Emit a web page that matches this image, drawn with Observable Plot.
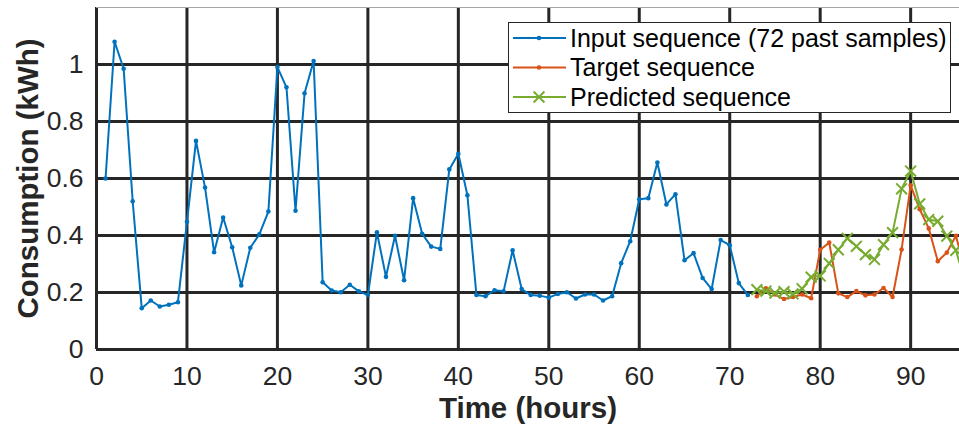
<!DOCTYPE html>
<html><head><meta charset="utf-8">
<script src="https://cdn.jsdelivr.net/npm/d3@7"></script>
<script src="https://cdn.jsdelivr.net/npm/@observablehq/plot@0.6"></script>
<style>
body{margin:0;background:#fff;}
#wrap{position:relative;width:959px;height:428px;overflow:hidden;font-family:"Liberation Sans",Arial,sans-serif;}
#legend{position:absolute;left:508px;top:22px;}
</style></head><body><div id="wrap"></div>
<script>
const inputValues = [0.60,1.08,0.985,0.52,0.145,0.172,0.151,0.157,0.166,0.448,
  0.732,0.568,0.341,0.463,0.359,0.225,0.357,0.404,0.484,0.991,
  0.920,0.487,0.899,1.012,0.236,0.207,0.201,0.227,0.204,0.191,
  0.411,0.255,0.399,0.243,0.531,0.406,0.361,0.353,0.632,0.687,
  0.541,0.191,0.187,0.208,0.204,0.348,0.212,0.191,0.189,0.182,
  0.195,0.201,0.179,0.193,0.193,0.172,0.187,0.303,0.380,0.527,
  0.531,0.656,0.509,0.545,0.313,0.338,0.251,0.212,0.384,0.366,
  0.233,0.191];
const targetValues = [0.187,0.215,0.193,0.177,0.184,0.193,0.180,0.350,0.375,0.197,
  0.184,0.205,0.190,0.193,0.216,0.184,0.351,0.576,0.492,0.425,
  0.310,0.340,0.399,0.280];
const predictedValues = [0.210,0.205,0.198,0.203,0.195,0.213,0.254,0.258,0.302,0.350,
  0.390,0.362,0.333,0.316,0.368,0.410,0.564,0.626,0.511,0.456,
  0.450,0.398,0.348,0.240];
const inputStartHour = 1;
const forecastStartHour = 73;
const xTicks = [0,10,20,30,40,50,60,70,80,90];
const yTicks = [0,0.2,0.4,0.6,0.8,1];
const yTickLabels = ["0","0.2","0.4","0.6","0.8","1"];
const seriesNames = ["Input sequence (72 past samples)","Target sequence","Predicted sequence"];
const seriesColors = ["#0072BD","#D95319","#77AC30"];
const seriesMarkers = ["dot","dot","times"];
const xLabel = "Time (hours)";
const yLabel = "Consumption (kWh)";
const xDomain = [0, 95.4];
const yDomain = [0, 1.2];

const toRows = (vals, start) => vals.map((v, i) => ({hour: start + i, value: v}));
const series = [
  toRows(inputValues, inputStartHour),
  toRows(targetValues, forecastStartHour),
  toRows(predictedValues, forecastStartHour)
];

const gridStyle = {stroke: "#262626", strokeOpacity: 1, strokeWidth: 3};
const dataMarks = [];
series.forEach((rows, k) => {
  dataMarks.push(Plot.line(rows, {x: "hour", y: "value", stroke: seriesColors[k], strokeWidth: 2, clip: true}));
  if (seriesMarkers[k] === "dot") {
    dataMarks.push(Plot.dot(rows, {x: "hour", y: "value", r: 2.3, fill: seriesColors[k], stroke: "none", clip: true}));
  } else {
    dataMarks.push(Plot.dot(rows, {x: "hour", y: "value", r: 5, symbol: "times", stroke: seriesColors[k], strokeWidth: 2, clip: true}));
  }
});

const chart = Plot.plot({
  width: 959, height: 428,
  marginLeft: 96, marginRight: 0, marginTop: 7, marginBottom: 79,
  x: {domain: xDomain},
  y: {domain: yDomain},
  style: {fontFamily: '"Liberation Sans", Arial, sans-serif', fontSize: "26.5px", color: "#262626", background: "#fff"},
  marks: [
    Plot.gridX(xTicks, gridStyle),
    Plot.gridY(yTicks, gridStyle),
    Plot.ruleY([yDomain[1]], {stroke: "#a6a6a6", strokeWidth: 1}),
    ...dataMarks,
    Plot.axisX({ticks: xTicks, tickSize: 0, tickPadding: 17, label: null, fill: "#262626"}),
    Plot.axisY({ticks: yTicks, tickSize: 0, tickPadding: 13, label: null, fill: "#262626",
      tickFormat: d => yTickLabels[yTicks.indexOf(d)]}),
    Plot.text([xLabel], {frameAnchor: "bottom", lineAnchor: "middle", textAnchor: "middle", dy: 59,
      fontWeight: "bold", fontSize: 29.5, fill: "#262626"}),
    Plot.text([yLabel], {frameAnchor: "left", lineAnchor: "middle", textAnchor: "middle", rotate: -90, dx: -68,
      fontWeight: "bold", fontSize: 29.5, fill: "#262626"})
  ]
});
const wrap = document.getElementById("wrap");
wrap.appendChild(chart);

// Legend overlay
const lw = 443, lh = 91, rowH = 29.5, row0 = 16;
const leg = d3.select(wrap).append("svg").attr("id", "legend")
  .attr("width", lw).attr("height", lh);
leg.append("rect").attr("x", 0.5).attr("y", 0.5).attr("width", lw - 1).attr("height", lh - 1)
  .attr("fill", "#fff").attr("stroke", "#262626").attr("stroke-width", 1);
seriesNames.forEach((name, k) => {
  const y = row0 + k * rowH;
  const g = leg.append("g");
  g.append("line").attr("x1", 5).attr("x2", 58).attr("y1", y).attr("y2", y)
    .attr("stroke", seriesColors[k]).attr("stroke-width", 2);
  if (seriesMarkers[k] === "dot") {
    g.append("circle").attr("cx", 31).attr("cy", y).attr("r", 2.3).attr("fill", seriesColors[k]);
  } else {
    g.append("path").attr("d", d3.symbol(d3.symbolTimes, 78.5)()).attr("transform", `translate(31,${y})`)
      .attr("stroke", seriesColors[k]).attr("stroke-width", 2).attr("fill", "none");
  }
  g.append("text").attr("x", 62).attr("y", y).attr("dy", "0.35em")
    .attr("font-family", '"Liberation Sans", Arial, sans-serif').attr("font-size", 25)
    .attr("fill", "#000").text(name);
});
</script>
</body></html>
